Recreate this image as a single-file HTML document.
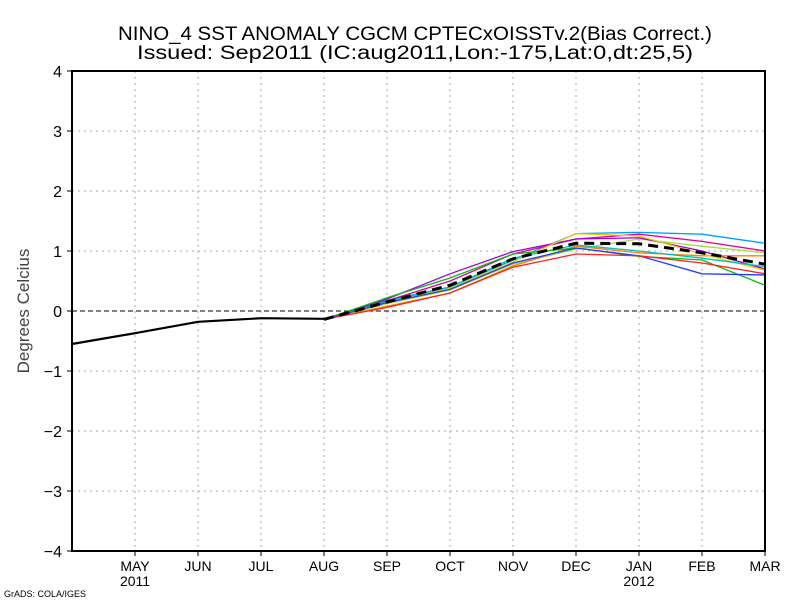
<!DOCTYPE html>
<html><head><meta charset="utf-8"><style>
body{margin:0;background:#fff}
svg text{font-family:"Liberation Sans",sans-serif;fill:#000}
</style></head><body>
<svg id="c" width="800" height="600" xmlns="http://www.w3.org/2000/svg">
<text x="415" y="40" font-size="19" text-anchor="middle" textLength="594" lengthAdjust="spacingAndGlyphs">NINO_4 SST ANOMALY CGCM CPTECxOISSTv.2(Bias Correct.)</text>
<text x="415" y="59" font-size="19" text-anchor="middle" textLength="556" lengthAdjust="spacingAndGlyphs">Issued:  Sep2011 (IC:aug2011,Lon:-175,Lat:0,dt:25,5)</text>
<text transform="translate(29,311) rotate(-90)" font-size="17" text-anchor="middle" fill="#444" style="fill:#444">Degrees Celcius</text>
<text x="4" y="597" font-size="9">GrADS: COLA/IGES</text>
<g id="grid"></g><g id="series"></g><g id="axes"></g>
</svg>
<script>
const months=["","MAY","JUN","JUL","AUG","SEP","OCT","NOV","DEC","JAN","FEB","MAR"];
const years=[[1,"2011"],[9,"2012"]];
const yTicks=[-4,-3,-2,-1,0,1,2,3,4];
const observed=[-0.55,-0.37,-0.18,-0.12,-0.13];
const obsStart=0;
const fcStart=4;
const fcColors=["#00a0ff","#e000a0","#a0e040","#a000e0","#ff8000","#e0d000","#00c0c0","#00c000","#2040ff","#ff2020"];
const fcVals=[
[-0.14,0.18,0.40,0.85,1.29,1.31,1.28,1.13],
[-0.14,0.17,0.50,0.95,1.20,1.28,1.16,1.00],
[-0.14,0.12,0.35,0.78,1.03,1.20,1.08,0.97],
[-0.14,0.20,0.62,0.99,1.20,1.22,1.00,0.70],
[-0.14,0.08,0.30,0.75,1.08,0.97,0.92,0.92],
[-0.14,0.15,0.38,0.82,1.29,1.25,0.95,0.68],
[-0.14,0.16,0.40,0.88,1.10,1.00,0.88,0.74],
[-0.14,0.22,0.55,0.95,1.05,0.91,0.85,0.43],
[-0.14,0.14,0.36,0.80,1.05,0.92,0.62,0.60],
[-0.14,0.06,0.30,0.73,0.95,0.92,0.80,0.62]];
const ensMean=[-0.14,0.15,0.43,0.87,1.13,1.12,0.97,0.78];
const NS="http://www.w3.org/2000/svg";
const X=i=>72+63*i, Y=v=>311-60*v;
function mk(p,t,a){const e=document.createElementNS(NS,t);for(const k in a)e.setAttribute(k,a[k]);p.appendChild(e);return e;}
const g=document.getElementById('grid'),s=document.getElementById('series'),ax=document.getElementById('axes');
for(let i=1;i<months.length;i++){
 const l=mk(g,'line',{x1:X(i),x2:X(i),y1:71,y2:551,stroke:'#aaa','stroke-dasharray':'2,4'});
 
 
 const t=mk(ax,'text',{x:X(i),y:571,'font-size':14,'text-anchor':'middle'});t.textContent=months[i];
 
 
 mk(ax,'line',{x1:X(i),x2:X(i),y1:551,y2:556,stroke:'#000'});
}
years.forEach(([i,y])=>{const t=mk(ax,'text',{x:X(i),y:586,'font-size':14,'text-anchor':'middle'});t.textContent=y;
 
 });
yTicks.forEach(v=>{
 if(v!==0&&v!==4&&v!==-4){const l=mk(g,'line',{x1:72,x2:765,y1:Y(v),y2:Y(v),stroke:'#aaa','stroke-dasharray':'2,4'});
 
 }
 mk(ax,'line',{x1:67,x2:72,y1:Y(v),y2:Y(v),stroke:'#000'});
 const t=mk(ax,'text',{x:62,y:Y(v)+6,'font-size':16,'text-anchor':'end'});t.textContent=(v<0?'\u2212':'')+Math.abs(v);
 
 
});
const z=mk(g,'line',{x1:72,x2:765,y1:Y(0),y2:Y(0),stroke:'#000','stroke-dasharray':'5,3'});


fcVals.forEach((arr,k)=>{
 const p=mk(s,'polyline',{points:arr.map((v,j)=>X(fcStart+j)+','+Y(v)).join(' '),fill:'none',stroke:fcColors[k],'stroke-width':1.3});
 
 
});
const m=mk(s,'polyline',{points:ensMean.map((v,j)=>X(fcStart+j)+','+Y(v)).join(' '),fill:'none',stroke:'#000','stroke-width':3,'stroke-dasharray':'10,6'});


const o=mk(s,'polyline',{points:observed.map((v,j)=>X(obsStart+j)+','+Y(v)).join(' '),fill:'none',stroke:'#000','stroke-width':2.2});


const b=mk(ax,'rect',{x:72,y:71,width:693,height:480,fill:'none',stroke:'#000','stroke-width':2});


</script>
</body></html>
